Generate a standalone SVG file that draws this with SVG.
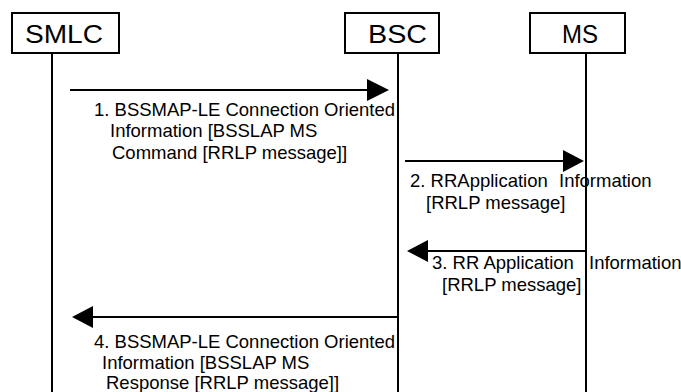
<svg xmlns="http://www.w3.org/2000/svg" width="681" height="392" viewBox="0 0 681 392">
<style>
.box{fill:#fff;stroke:#000;stroke-width:2}
.life{stroke:#000;stroke-width:2;fill:none}
.msg{stroke:#000;stroke-width:2;fill:none}
.head{fill:#000}
.hd{font-family:"Liberation Sans",Arial,sans-serif;font-size:26px;fill:#000}
.lb{font-family:"Liberation Sans",Arial,sans-serif;font-size:18.5px;fill:#000}
</style>
<rect width="681" height="392" fill="#fff"/>
<g id="SMLC">
<rect class="box" x="12" y="13" width="107" height="40"/>
<text class="hd" x="25" y="43" textLength="78" lengthAdjust="spacingAndGlyphs">SMLC</text>
<line class="life" x1="52" y1="53" x2="52" y2="392"/>
</g>
<g id="BSC">
<rect class="box" x="345" y="13" width="94" height="40"/>
<text class="hd" x="368" y="43" textLength="59" lengthAdjust="spacingAndGlyphs">BSC</text>
<line class="life" x1="398" y1="53" x2="398" y2="392"/>
</g>
<g id="MS">
<rect class="box" x="530" y="13" width="95" height="40"/>
<text class="hd" x="562" y="43" textLength="36" lengthAdjust="spacingAndGlyphs">MS</text>
<line class="life" x1="586" y1="53" x2="586" y2="392"/>
</g>
<g id="connectors">
<line class="msg" x1="70" y1="90" x2="368" y2="90"/>
<polygon class="head" points="367,79 389,90 367,101"/>
<line class="msg" x1="405" y1="161" x2="564" y2="161"/>
<polygon class="head" points="563,150 584,161 563,172"/>
<line class="msg" x1="586" y1="251" x2="427" y2="251"/>
<polygon class="head" points="428,240 407,251 428,262"/>
<line class="msg" x1="398" y1="317" x2="92" y2="317"/>
<polygon class="head" points="93,306 72,317 93,328"/>
</g>
<g id="labels">
<text class="lb" x="94" y="116" textLength="301" lengthAdjust="spacingAndGlyphs">1. BSSMAP-LE Connection Oriented</text>
<text class="lb" x="110" y="137">Information [BSSLAP MS</text>
<text class="lb" x="112" y="159">Command [RRLP message]]</text>
<text class="lb" x="410" y="187">2. RRApplication</text>
<text class="lb" x="559" y="187">Information</text>
<text class="lb" x="426" y="209">[RRLP message]</text>
<text class="lb" x="432" y="269">3. RR Application</text>
<text class="lb" x="589" y="269">Information</text>
<text class="lb" x="442" y="291">[RRLP message]</text>
<text class="lb" x="94" y="348" textLength="301" lengthAdjust="spacingAndGlyphs">4. BSSMAP-LE Connection Oriented</text>
<text class="lb" x="102" y="369">Information [BSSLAP MS</text>
<text class="lb" x="106" y="389">Response [RRLP message]]</text>
</g>
</svg>
